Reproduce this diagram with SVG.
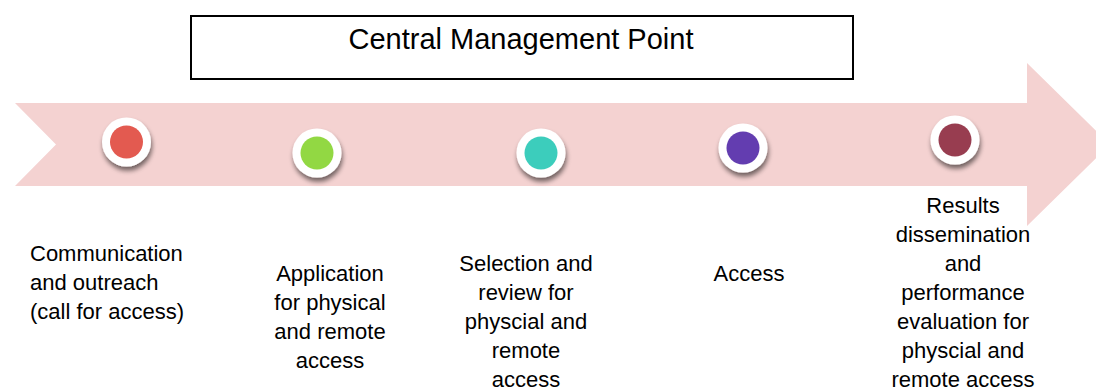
<svg xmlns="http://www.w3.org/2000/svg" width="1096" height="390" viewBox="0 0 1096 390">
  <defs>
    <filter id="sh" x="-50%" y="-50%" width="200%" height="200%">
      <feGaussianBlur in="SourceAlpha" stdDeviation="2.5"/>
      <feOffset dx="1" dy="4" result="b"/>
      <feComponentTransfer><feFuncA type="linear" slope="0.55"/></feComponentTransfer>
      <feMerge><feMergeNode/><feMergeNode in="SourceGraphic"/></feMerge>
    </filter>
  </defs>
  <style>
    .lbl { font-family: "Liberation Sans", Arial, sans-serif; font-size: 22px; fill: #000; }
    .c { text-anchor: middle; }
    .ring { fill: #ffffff; filter: url(#sh); }
  </style>
  <rect width="1096" height="390" fill="#ffffff"/>
  <g id="arrow">
    <path d="M15,103 L1027,103 L1027,63 L1110,144.5 L1027,226 L1027,186 L15,186 L56,144.5 Z" fill="#F4D2D1"/>
  </g>
  <g id="central">
    <rect x="191" y="16" width="662" height="63" fill="#ffffff" stroke="#000000" stroke-width="2"/>
    <text x="521" y="49" class="lbl c" style="font-size:29px">Central Management Point</text>
  </g>
  <g id="connectors"></g>
  <g id="step1">
    <circle cx="126.5" cy="142" r="24.5" class="ring"/>
    <circle cx="126.5" cy="142" r="16.5" fill="#E35A50"/>
    <text class="lbl" x="30" y="261"><tspan x="30">Communication</tspan><tspan x="30" dy="29">and outreach</tspan><tspan x="30" dy="29">(call for access)</tspan></text>
  </g>
  <g id="step2">
    <circle cx="317" cy="153" r="24.5" class="ring"/>
    <circle cx="317" cy="153" r="16.5" fill="#92D843"/>
    <text class="lbl c" x="330" y="281"><tspan x="330">Application</tspan><tspan x="330" dy="29">for physical</tspan><tspan x="330" dy="29">and remote</tspan><tspan x="330" dy="29">access</tspan></text>
  </g>
  <g id="step3">
    <circle cx="541" cy="153" r="24.5" class="ring"/>
    <circle cx="541" cy="153" r="16.5" fill="#3CCDBC"/>
    <text class="lbl c" x="526" y="271"><tspan x="526">Selection and</tspan><tspan x="526" dy="29">review for</tspan><tspan x="526" dy="29">physcial and</tspan><tspan x="526" dy="29">remote</tspan><tspan x="526" dy="29">access</tspan></text>
  </g>
  <g id="step4">
    <circle cx="743" cy="148" r="24.5" class="ring"/>
    <circle cx="743" cy="148" r="16.5" fill="#633DB0"/>
    <text class="lbl c" x="749" y="281">Access</text>
  </g>
  <g id="step5">
    <circle cx="955" cy="140" r="24.5" class="ring"/>
    <circle cx="955" cy="140" r="16.5" fill="#983D50"/>
    <text class="lbl c" x="963" y="213"><tspan x="963">Results</tspan><tspan x="963" dy="29">dissemination</tspan><tspan x="963" dy="29">and</tspan><tspan x="963" dy="29">performance</tspan><tspan x="963" dy="29">evaluation for</tspan><tspan x="963" dy="29">physcial and</tspan><tspan x="963" dy="29">remote access</tspan></text>
  </g>
</svg>
